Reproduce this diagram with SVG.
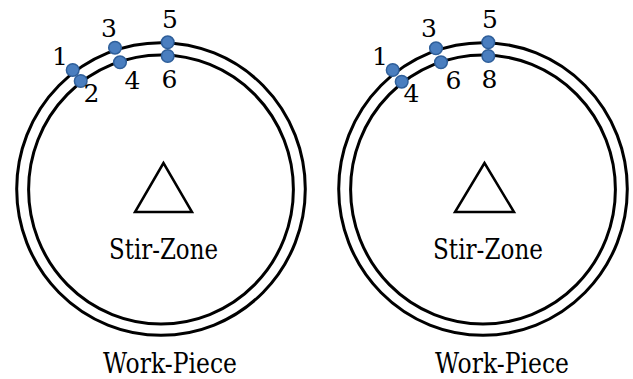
<svg xmlns="http://www.w3.org/2000/svg" width="633" height="379" viewBox="0 0 633 379">
<defs>
<style>
.ring{fill:none;stroke:#000;stroke-width:3}
.tri{fill:#fff;stroke:#000;stroke-width:2.5;stroke-linejoin:miter}
.dot{fill:#4a7ebf;stroke:#2f5f9a;stroke-width:1.5}
text{fill:#000;text-anchor:middle;font-family:"DejaVu Serif",serif}
.num{font-size:25px}
.lbl{font-size:27px}
</style>
</defs>
<rect width="633" height="379" fill="#fff"/>
<g id="workpiece-left">
<ellipse class="ring" cx="161" cy="189" rx="144.3" ry="146.3"/>
<ellipse class="ring" cx="161" cy="189.5" rx="132.4" ry="134.5"/>
<text class="lbl" x="170" y="373" textLength="134" lengthAdjust="spacingAndGlyphs">Work-Piece</text>
</g>
<g id="stirzone-left">
<polygon class="tri" points="163.5,163 135,212 192,212"/>
<text class="lbl" x="163.5" y="259" textLength="109" lengthAdjust="spacingAndGlyphs">Stir-Zone</text>
</g>
<g id="points-left">
<circle class="dot" cx="72.7" cy="70" r="6.3"/>
<circle class="dot" cx="80.7" cy="81" r="6.3"/>
<circle class="dot" cx="115" cy="47.7" r="6.3"/>
<circle class="dot" cx="120" cy="62.3" r="6.3"/>
<circle class="dot" cx="167.7" cy="42.3" r="6.3"/>
<circle class="dot" cx="167.7" cy="56" r="6.3"/>
<text class="num" x="60" y="65">1</text>
<text class="num" x="91.5" y="101.7">2</text>
<text class="num" x="109" y="36.7">3</text>
<text class="num" x="132.5" y="89.3">4</text>
<text class="num" x="170" y="28.3">5</text>
<text class="num" x="169.5" y="88.3">6</text>
</g>
<g id="workpiece-right">
<ellipse class="ring" cx="483" cy="189" rx="144.3" ry="146.3"/>
<ellipse class="ring" cx="483" cy="189.5" rx="132.4" ry="134.5"/>
<text class="lbl" x="502" y="373" textLength="134" lengthAdjust="spacingAndGlyphs">Work-Piece</text>
</g>
<g id="stirzone-right">
<polygon class="tri" points="484.5,163 455,212 514,212"/>
<text class="lbl" x="488" y="259" textLength="110" lengthAdjust="spacingAndGlyphs">Stir-Zone</text>
</g>
<g id="points-right">
<circle class="dot" cx="392.7" cy="70" r="6.3"/>
<circle class="dot" cx="401.7" cy="81.7" r="6.3"/>
<circle class="dot" cx="436" cy="48.3" r="6.3"/>
<circle class="dot" cx="441" cy="62.3" r="6.3"/>
<circle class="dot" cx="488.3" cy="42.3" r="6.3"/>
<circle class="dot" cx="488.3" cy="56" r="6.3"/>
<text class="num" x="380" y="65">1</text>
<text class="num" x="411.5" y="102">4</text>
<text class="num" x="429" y="37">3</text>
<text class="num" x="453.5" y="89">6</text>
<text class="num" x="490" y="28.3">5</text>
<text class="num" x="489.5" y="88">8</text>
</g>
<g id="connectors"></g>
</svg>
